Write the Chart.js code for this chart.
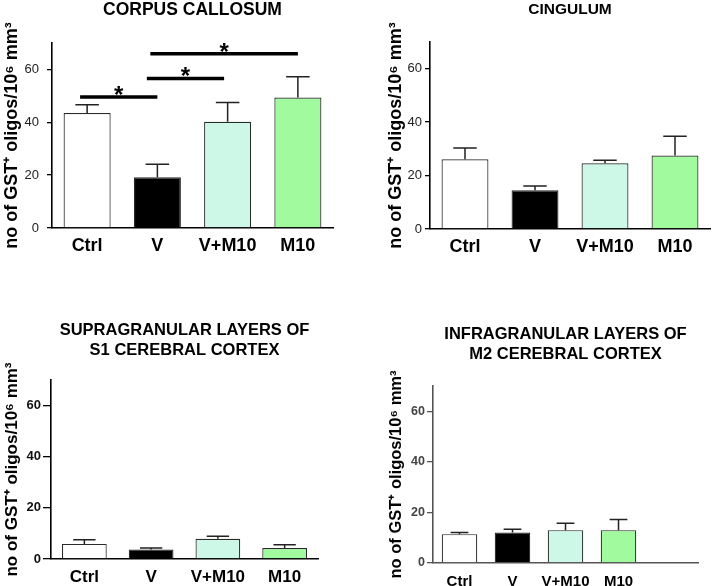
<!DOCTYPE html>
<html>
<head>
<meta charset="utf-8">
<script src="https://cdn.jsdelivr.net/npm/chart.js@4"></script>
<style>
  body { margin: 0; background: #fff; }
  #wrap { position: relative; width: 714px; height: 586px; overflow: hidden; }
  canvas { position: absolute; }
</style>
</head>
<body>
<div id="wrap">
  <canvas id="cc" width="357" height="265" style="left:0;top:0"></canvas>
  <canvas id="cg" width="354" height="265" style="left:360px;top:0"></canvas>
  <canvas id="s1" width="357" height="296" style="left:0;top:290px"></canvas>
  <canvas id="m2" width="354" height="296" style="left:360px;top:290px"></canvas>
</div>
<script>
// groups and values (mean, SEM)
var groups = ['Ctrl', 'V', 'V+M10', 'M10'];
var barColors = ['#ffffff', '#000000', '#cdf7e6', '#a2fa9e'];
var yTicks = [0, 20, 40, 60];
var yMax = 70;

var ccMean = [43.5, 19.2, 40.2, 49.4];
var ccSem = [3.1, 4.9, 7.3, 7.8];
var cgMean = [26.1, 14.5, 24.6, 27.5];
var cgSem = [4.2, 1.6, 1.1, 7.2];
var s1Mean = [5.9, 3.7, 7.9, 4.3];
var s1Sem = [1.6, 0.6, 1.0, 1.3];
var m2Mean = [11.4, 12.1, 13.0, 13.0];
var m2Sem = [0.7, 1.2, 2.7, 4.2];

// significance bars in corpus callosum: [from, to, height]
var ccSig = [[-0.1, 1, 49.6], [0.85, 1.95, 56.6], [0.9, 3, 65.9]];

var yTitle = 'no of GST\u207A oligos/10\u2076 mm\u00B3';
var FONT = "'Liberation Sans', Arial, sans-serif";

var errorBars = {
    id: 'errorBars',
    afterDatasetsDraw: function (chart, args, opts) {
        var ctx = chart.ctx;
        var y = chart.scales.y;
        var meta = chart.getDatasetMeta(0);
        var data = chart.data.datasets[0].data;
        ctx.save();
        ctx.strokeStyle = opts.color;
        ctx.lineWidth = opts.width;
        meta.data.forEach(function (bar, i) {
            var top = y.getPixelForValue(data[i] + opts.sem[i]);
            var half = bar.width / 4;
            ctx.beginPath();
            ctx.moveTo(bar.x, bar.y);
            ctx.lineTo(bar.x, top);
            ctx.moveTo(bar.x - half, top);
            ctx.lineTo(bar.x + half, top);
            ctx.stroke();
        });
        ctx.restore();
    }
};

var sigBars = {
    id: 'sigBars',
    afterDatasetsDraw: function (chart, args, opts) {
        if (!opts.pairs) return;
        var ctx = chart.ctx;
        var x = chart.scales.x, y = chart.scales.y;
        ctx.save();
        ctx.strokeStyle = '#000';
        ctx.fillStyle = '#000';
        ctx.lineWidth = 3.5;
        ctx.font = 'bold 24px ' + FONT;
        ctx.textAlign = 'center';
        ctx.textBaseline = 'alphabetic';
        opts.pairs.forEach(function (p) {
            var x1 = x.getPixelForValue(p[0]);
            var x2 = x.getPixelForValue(p[1]);
            var py = y.getPixelForValue(p[2]);
            ctx.beginPath();
            ctx.moveTo(x1, py);
            ctx.lineTo(x2, py);
            ctx.stroke();
            ctx.fillText('*', (x1 + x2) / 2, py + 6);
        });
        ctx.restore();
    }
};

function panel(id, cfg) {
    var labels = groups.slice();
    if (cfg.extraSlot) labels.push('');
    return new Chart(document.getElementById(id), {
        type: 'bar',
        data: {
            labels: labels,
            datasets: [{
                data: cfg.mean,
                backgroundColor: barColors,
                borderColor: '#2a2a2a',
                borderWidth: 1.2,
                barPercentage: 0.67,
                categoryPercentage: 1
            }]
        },
        plugins: [errorBars, sigBars],
        options: {
            responsive: false,
            animation: false,
            layout: { padding: { left: 0, right: cfg.padRight, top: 0, bottom: 0 } },
            plugins: {
                legend: { display: false },
                tooltip: { enabled: false },
                title: {
                    display: true,
                    text: cfg.title,
                    fullSize: false,
                    color: '#000',
                    font: { family: FONT, size: cfg.titleSize, weight: 'bold' },
                    padding: { top: cfg.titleTop, bottom: cfg.titleBottom }
                },
                errorBars: { sem: cfg.sem, color: '#222', width: 1.5 },
                sigBars: { pairs: cfg.sig }
            },
            scales: {
                x: {
                    afterFit: function (axis) { axis.height = cfg.xHeight; },
                    grid: { display: false, drawTicks: false },
                    border: { display: true, color: cfg.axisColor, width: 1.6 },
                    ticks: {
                        color: '#000',
                        padding: cfg.xPad,
                        autoSkip: false,
                        minRotation: 0,
                        maxRotation: 0,
                        font: { family: FONT, size: cfg.xSize, weight: 'bold' }
                    }
                },
                y: {
                    min: 0,
                    max: yMax,
                    afterFit: function (axis) { axis.width = cfg.yWidth; },
                    afterBuildTicks: function (axis) {
                        axis.ticks = yTicks.map(function (v) { return { value: v }; });
                    },
                    grid: {
                        display: true,
                        drawOnChartArea: false,
                        drawTicks: true,
                        tickLength: cfg.tickLen,
                        color: cfg.axisColor,
                        lineWidth: 1.3
                    },
                    border: { display: true, color: cfg.axisColor, width: 1.6 },
                    ticks: {
                        color: cfg.tickColor,
                        padding: cfg.tickPad,
                        font: { family: FONT, size: cfg.tickSize, weight: cfg.tickWeight }
                    },
                    title: {
                        display: true,
                        text: yTitle,
                        color: '#000',
                        font: { family: FONT, size: cfg.yTitleSize, weight: 'bold' },
                        padding: { top: cfg.yTitlePad, bottom: 0 }
                    }
                }
            }
        }
    });
}

panel('cc', {
    title: 'CORPUS CALLOSUM', titleSize: 17.5, titleTop: 0, titleBottom: 22,
    mean: ccMean, sem: ccSem, sig: ccSig,
    padRight: 24, yWidth: 52, xHeight: 37, xPad: 7, xSize: 18,
    tickLen: 5, tickPad: 8, tickSize: 13, tickWeight: 'normal', tickColor: '#222',
    yTitleSize: 18, yTitlePad: 1.2, axisColor: '#000'
});

panel('cg', {
    title: 'CINGULUM', titleSize: 15.5, titleTop: 0, titleBottom: 23.4,
    mean: cgMean, sem: cgSem, sig: null,
    padRight: 4, yWidth: 70, xHeight: 36, xPad: 7, xSize: 18,
    tickLen: 5, tickPad: 3, tickSize: 13, tickWeight: 'normal', tickColor: '#222',
    yTitleSize: 18, yTitlePad: 25.2, axisColor: '#000'
});

panel('s1', {
    title: ['SUPRAGRANULAR LAYERS OF', 'S1 CEREBRAL CORTEX'], titleSize: 16.5, titleTop: 30.5, titleBottom: 19.9,
    mean: s1Mean, sem: s1Sem, sig: null,
    padRight: 39, yWidth: 51, xHeight: 27, xPad: 8, xSize: 17,
    tickLen: 8, tickPad: 2, tickSize: 13, tickWeight: 'bold', tickColor: '#111',
    yTitleSize: 17, yTitlePad: 1.8, axisColor: '#000'
});

panel('m2', {
    title: ['INFRAGRANULAR LAYERS OF', 'M2 CEREBRAL CORTEX'], titleSize: 16.5, titleTop: 35, titleBottom: 21.4,
    mean: m2Mean, sem: m2Sem, sig: null, extraSlot: true,
    padRight: 16, yWidth: 73, xHeight: 23, xPad: 10, xSize: 15,
    tickLen: 6, tickPad: 2, tickSize: 12.5, tickWeight: 'bold', tickColor: '#444',
    yTitleSize: 16.5, yTitlePad: 27, axisColor: '#555'
});
</script>
</body>
</html>
